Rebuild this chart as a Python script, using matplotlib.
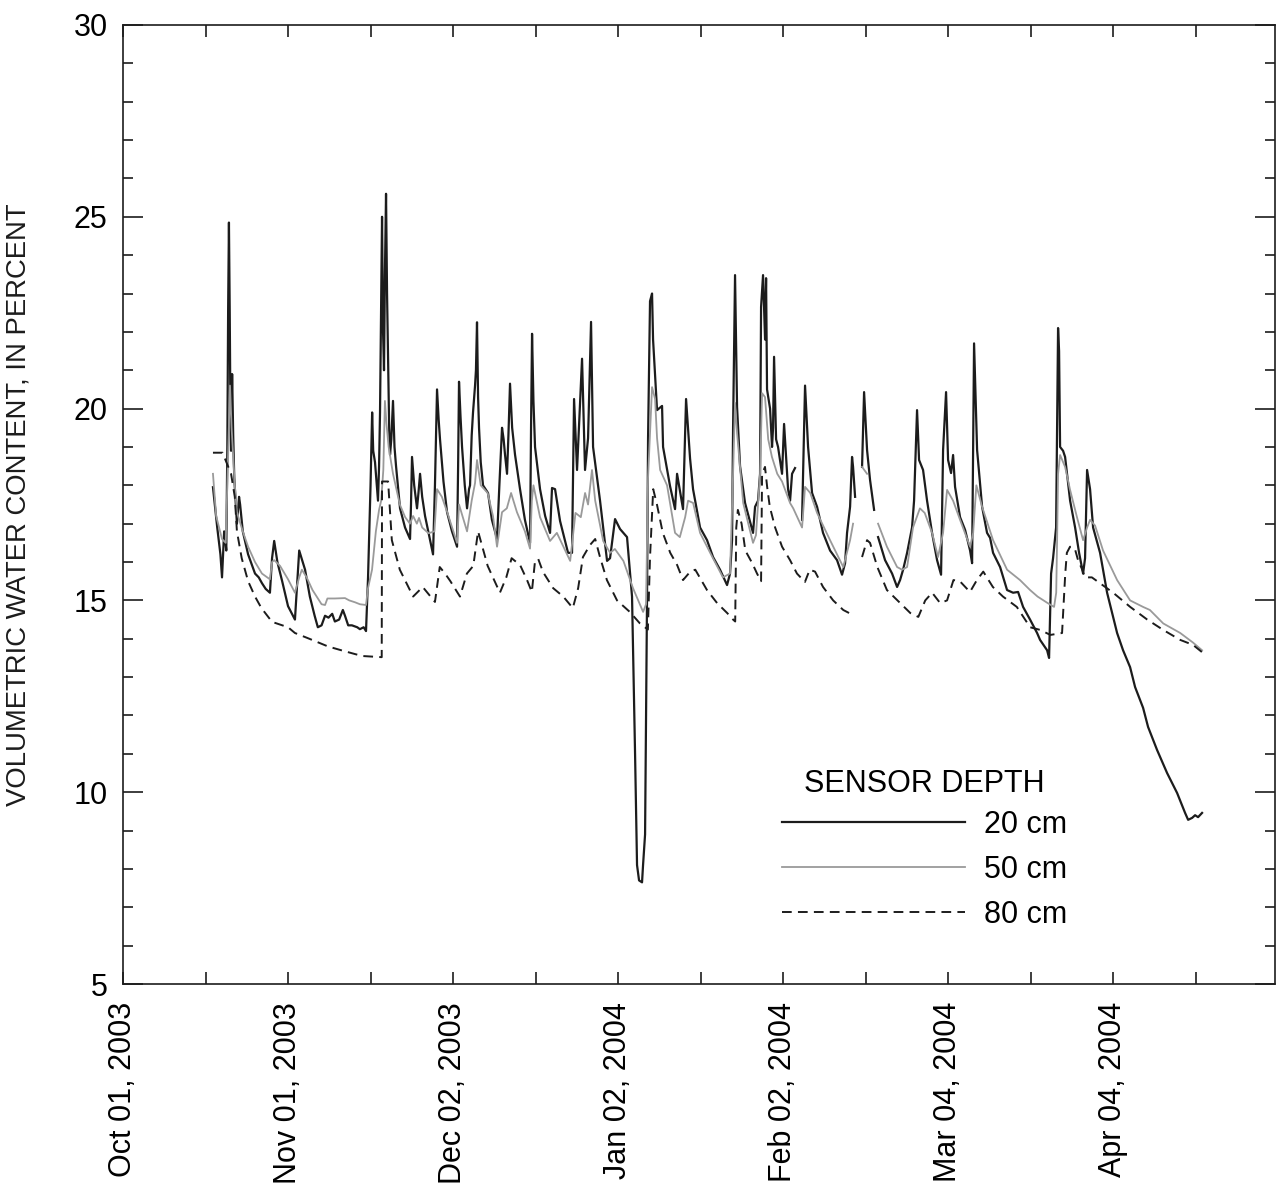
import numpy as np
import matplotlib
matplotlib.use("Agg")
import matplotlib.pyplot as plt
import matplotlib.dates as mdates

plt.rcParams['font.family'] = ['Liberation Sans', 'DejaVu Sans']

# Record start; all series times are days elapsed since this date
start_date = "2003-10-01"

# Axis tick dates and their labels
tick_dates = ["2003-10-01", "2003-11-01", "2003-12-02", "2004-01-02",
              "2004-02-02", "2004-03-04", "2004-04-04"]
tick_labels = ["Oct 01, 2003", "Nov 01, 2003", "Dec 02, 2003", "Jan 02, 2004",
               "Feb 02, 2004", "Mar 04, 2004", "Apr 04, 2004"]

series_labels = ["20 cm", "50 cm", "80 cm"]
legend_title = "SENSOR DEPTH"
y_label = "VOLUMETRIC WATER CONTENT, IN PERCENT"

nan = np.nan

# Sensor at 20 cm depth: (days since start, volumetric water content %)
days_20 = [16.9, 17.7, 18.3, 18.6, 19.0, 19.2, 19.4, 19.6, 19.75, 19.9, 20.05, 20.2, 20.3,
           20.5, 20.7, 20.9, 21.4, 21.8, 22.0, 22.5, 23.5, 24.8, 25.5, 26.1, 26.8, 27.6,
           27.9, 28.0, 28.4, 29.0, 29.9, 31.0, 32.3, 33.1, 34.2, 35.1, 36.0, 36.6, 37.3,
           37.95, 38.6, 39.3, 39.8, 40.6, 41.3, 41.7, 42.3, 43.0, 44.0, 44.5, 45.2, 45.65,
           46.03, 46.5, 46.8, 47.0, 47.34, 47.9, 48.1, 48.28, 48.5, 48.66, 48.85, 49.03,
           49.2, 49.41, 49.6, 49.78, 50.0, 50.16, 50.4, 50.72, 51.0, 51.29, 52.04, 52.98,
           53.92, 54.1, 54.29, 54.7, 55.23, 55.5, 55.8, 56.2, 56.74, 57.5, 58.24, 58.6,
           58.99, 59.3, 59.55, 60.2, 60.87, 61.8, 62.75, 62.95, 63.12, 63.4, 63.69, 64.2,
           64.63, 65.0, 65.19, 65.5, 65.75, 66.13, 66.3, 66.5, 66.7, 66.88, 67.2, 67.63,
           68.57, 69.3, 70.26, 70.7, 71.2, 71.5, 71.76, 72.14, 72.4, 72.7, 73.1, 73.64,
           74.58, 75.5, 76.46, 76.65, 76.84, 77.1, 77.4, 78.34, 79.3, 80.22, 80.59, 81.16,
           82.1, 83.6, 84.35, 84.73, 85.29, 86.23, 86.79, 87.36, 87.92, 88.3, 89.61, 90.93,
           91.49, 92.43, 93.37, 94.68, 95.62, 96.19, 96.56, 96.94, 97.5, 97.69, 98.07,
           98.44, 98.63, 99.0, 99.38, 99.57, 100.32, 101.26, 101.45, 102.76, 103.7, 104.08,
           105.2, 105.77, 106.52, 107.08, 108.4, 109.71, 110.84, 112.15, 113.47, 114.03,
           114.41, 114.6, 114.97, 115.35, 115.91, 116.85, 118.35, 118.73, 119.29, 119.67,
           119.86, 120.23, 120.61, 120.8, 120.98, 121.55, 121.92, 122.11, 122.3, 122.68,
           123.05, 123.8, 124.18, 124.55, 124.93, 125.31, 125.68, 126.24, 126.9, 127.56,
           128.12, 128.69, 129.44, 130.38, 131.5, 132.82, 134.13, 135.07, 135.64, 136.01,
           136.58, 136.95, 137.14, 137.52, 138.2, 138.83, 139.21, 139.77, 140.33, 141.09,
           141.4, 141.84, 143.15, 144.47, 145.41, 145.97, 146.54, 147.29, 148.22, 148.6,
           149.16, 149.54, 150.29, 151.04, 151.98, 152.92, 153.67, 154.05, 154.61, 154.99,
           155.55, 155.93, 156.3, 157.24, 158.18, 159.12, 159.5, 159.87, 160.44, 161.38,
           162.31, 162.88, 163.44, 164.76, 166.07, 167.2, 168.14, 169.08, 170.39, 171.71,
           172.27, 173.59, 173.96, 174.34, 174.71, 175.28, 175.47, 175.65, 175.84, 176.03,
           176.59, 176.97, 177.91, 178.85, 179.6, 180.35, 180.72, 181.1, 181.66, 182.23,
           183.54, 184.86, 186.74, 187.86, 189.18, 190.12, 191.62, 192.56, 194.25, 196.13,
           198.01, 199.51, 200.08, 200.83, 201.39, 201.95, 202.7]
vwc_20 = [17.95, 16.9, 16.2, 15.6, 16.8, 16.6, 16.3, 19.0, 22.6, 24.85, 22.5, 19.5, 18.9,
          20.9, 19.3, 18.2, 17.0, 17.7, 17.5, 16.8, 16.2, 15.7, 15.6, 15.45, 15.3, 15.2,
          15.9, 16.1, 16.55, 16.0, 15.5, 14.85, 14.5, 16.3, 15.8, 15.1, 14.6, 14.3, 14.35,
          14.6, 14.55, 14.65, 14.45, 14.5, 14.75, 14.6, 14.35, 14.35, 14.3, 14.25, 14.3, 14.2,
          15.6, 18.0, 19.9, 18.9, 18.6, 17.6, 18.5, 19.9, 23.0, 25.0, 22.0, 21.0,
          23.5, 25.6, 23.0, 21.5, 19.5, 18.8, 19.2, 20.2, 19.0, 18.5, 17.4, 16.9,
          16.6, 17.5, 18.74, 18.0, 17.4, 17.8, 18.3, 17.7, 17.2, 16.7, 16.2, 18.0,
          20.5, 19.7, 19.2, 18.1, 17.3, 16.8, 16.4, 18.5, 20.7, 19.8, 19.0, 18.0,
          17.4, 17.9, 18.0, 19.3, 19.9, 20.6, 21.0, 22.25, 20.3, 19.5, 18.6, 18.0,
          17.8, 17.1, 16.6, 18.0, 19.5, 19.2, 18.8, 18.3, 19.3, 20.65, 19.5, 18.8,
          17.9, 17.1, 16.5, 19.5, 21.95, 20.2, 19.0, 17.9, 17.2, 16.76, 17.93, 17.9,
          17.07, 16.24, 16.24, 20.25, 18.4, 21.3, 18.4, 19.23, 22.26, 19.0, 17.6, 16.03,
          16.1, 17.12, 16.86, 16.65, 15.1, 11.0, 8.1, 7.7, 7.65, 8.1, 8.9,
          15.1, 19.23, 22.8, 23.0, 21.8, 19.96, 20.07, 19.0, 17.98, 17.38, 18.3,
          17.38, 20.25, 18.7, 17.9, 16.9, 16.57, 16.13, 15.8, 15.4, 15.7,
          16.57, 19.5, 23.48, 20.04, 18.5, 17.54, 16.76, 17.44, 17.6, 18.3,
          22.65, 23.48, 21.8, 23.4, 20.5, 20.0, 19.0, 19.5, 21.35, 19.2,
          19.0, 18.3, 19.6, 18.74, 17.9, 17.6, 18.3, 18.45, nan, 17.1,
          20.6, 19.0, 17.8, 17.44, 16.76, 16.3, 16.05, 15.67, 15.97, 16.76,
          17.44, 18.74, 18.48, 17.7, nan, 18.48, 20.43, 18.92, 18.14, 17.36,
          nan, 16.65, 16.05, 15.7, 15.35, 15.53, 15.8, 16.24, 16.9, 17.6,
          19.96, 18.66, 18.4, 17.6, 16.76, 16.05, 15.67, 18.92, 20.43, 18.66,
          18.32, 18.79, 17.96, 17.17, 16.84, 16.3, 15.97, 21.7, 18.92, 17.44,
          16.76, 16.63, 16.24, 15.87, 15.27, 15.2, 15.22, 14.83, 14.5, 14.15,
          13.97, 13.7, 13.5, 15.7, 16.1, 16.9, 19.6, 22.1, 21.5, 19.0,
          18.9, 18.74, 17.6, 16.9, 16.24, 15.7, 16.1, 18.4, 17.9, 16.9,
          16.24, 15.2, 14.15, 13.7, 13.26, 12.74, 12.2, 11.7, 11.1, 10.5,
          9.98, 9.46, 9.28, 9.33, 9.4, 9.35, 9.46]

# Sensor at 50 cm depth
days_50 = [16.9, 17.5, 18.6, 19.3, 19.7, 20.1, 20.4, 21.0, 21.4, 22.5, 23.5, 24.8, 26.1,
           27.6, 28.0, 28.4, 29.5, 31.0, 32.3, 33.1, 33.6, 34.5, 35.6, 37.3, 37.95, 38.4,
           39.8, 41.7, 42.5, 43.6, 44.5, 45.65, 46.0, 46.78, 47.5, 48.1, 48.5, 48.9, 49.2,
           49.5, 49.9, 50.72, 52.0, 53.0, 53.9, 54.5, 55.2, 55.6, 56.2, 57.4, 58.5, 58.99,
           59.9, 60.9, 62.75, 63.12, 64.63, 65.5, 66.13, 66.5, 67.2, 68.5, 69.5, 70.26,
           71.2, 72.1, 72.9, 74.0, 75.5, 76.46, 76.8, 77.1, 78.34, 80.22, 81.5, 84.0, 85.0,
           86.0, 86.8, 87.36, 88.1, 88.7, 90.2, 91.5, 92.4, 94.0, 95.8, 97.7, 98.25, 98.63,
           99.38, 99.95, 100.32, 100.9, 102.2, 103.7, 104.6, 105.6, 106.15, 107.1, 108.4,
           110.3, 112.7, 114.03, 114.6, 114.97, 115.35, 116.5, 118.35, 118.9, 119.67,
           120.05, 120.6, 121.2, 121.9, 122.9, 123.8, 125.3, 125.9, 127.56, 128.12, 129.1,
           130.38, 132.82, 135.3, 136.58, 137.14, 138.2, 138.83, 139.77, 141.4, 141.84,
           143.5, 145.41, 146.35, 147.29, 148.4, 149.7, 150.6, 151.98, 153.1, 154.05,
           154.8, 155.93, 157.24, 159.12, 159.7, 160.3, 161.38, 163.44, 166.07, 168.5,
           170.39, 171.8, 173.7, 174.9, 175.3, 175.47, 175.65, 176.03, 176.97, 177.91,
           179.2, 180.35, 181.1, 181.66, 182.6, 184.1, 186.74, 189.18, 191.62, 192.9,
           195.4, 198.6, 201.0, 202.7]
vwc_50 = [18.3, 17.2, 16.6, 16.5, 18.5, 20.6, 19.5, 18.0, 17.3, 16.8, 16.4, 16.0, 15.7,
          15.55, 16.0, 16.05, 15.9, 15.55, 15.2, 15.6, 15.8, 15.6, 15.27, 14.9, 14.88, 15.05,
          15.05, 15.06, 15.0, 14.95, 14.9, 14.88, 15.3, 15.8, 16.8, 17.36, 17.6, 18.4, 20.2,
          19.6, 19.0, 18.3, 17.5, 17.17, 17.0, 17.2, 17.0, 17.15, 16.9, 16.75, 16.8, 17.9,
          17.7, 17.3, 16.5, 17.5, 16.8, 17.6, 18.06, 18.66, 18.0, 17.8, 17.2, 16.4,
          17.3, 17.4, 17.8, 17.3, 16.8, 16.35, 17.6, 18.0, 17.17, 16.55, 16.76, 16.03, 17.28,
          17.17, 17.8, 17.5, 18.4, 17.6, 16.55, 16.24, 16.34, 16.03, 15.32, 14.7, 14.9, 18.2,
          20.56, 20.25, 19.23, 18.4, 18.0, 16.76, 16.65, 17.17, 17.6, 17.54, 16.76,
          16.24, 15.6, 15.7, 18.3, 20.15, 19.36, 17.54, 16.5, 16.7, 18.3,
          20.4, 20.3, 19.2, 18.74, 18.3, 18.1, 17.54, 17.4, 16.9, 17.96, 17.8,
          17.28, 16.57, 15.87, 16.57, 17.0, nan, 18.48, 18.3, nan, 17.0,
          16.4, 15.87, 15.8, 15.87, 16.9, 17.4, 17.28, 16.76, 16.13, 16.76,
          17.88, 17.6, 17.1, 16.4, 16.76, 18.0, 17.44, 16.57, 15.8, 15.53,
          15.27, 15.1, 14.93, 14.83, 15.2, 16.57, 18.3, 18.79, 18.48, 17.88,
          17.17, 16.57, 16.9, 17.1, 16.95, 16.3, 15.53, 15.0, 14.83, 14.75,
          14.4, 14.15, 13.9, 13.7]

# Sensor at 80 cm depth
days_80 = [16.9, 18.7, 20.3, 21.0, 21.4, 22.3, 23.5, 24.8, 26.0, 28.0, 31.0, 32.3, 35.0,
           38.5, 41.0, 43.6, 45.0, 48.6, 48.66, 49.8, 50.5, 52.0, 54.5, 56.3, 58.6, 59.5,
           60.5, 61.5, 63.3, 64.6, 65.8, 66.7, 68.5, 70.8, 72.0, 73.0, 74.6, 75.9, 76.8,
           77.4, 78.0, 78.9, 80.8, 82.7, 84.5, 85.5, 86.4, 87.7, 88.7, 89.6, 90.9, 92.8,
           95.2, 97.1, 98.6, 99.0, 99.6, 100.3, 101.4, 102.8, 104.1, 105.2, 106.5, 107.5,
           109.7, 111.6, 113.5, 114.6, 115.0, 115.2, 115.5, 116.2, 116.9, 118.2, 119.1,
           119.86, 120.05, 120.6, 121.0, 121.5, 122.5, 123.8, 125.3, 126.6, 128.1, 129.0,
           130.0, 131.5, 133.4, 135.3, 137.1, 138.2, 138.83, 139.77, 140.33, 141.7, 143.5,
           146.0, 147.9, 149.4, 150.7, 152.0, 153.5, 154.8, 156.0, 157.2, 159.1, 160.4,
           161.6, 163.4, 165.3, 167.9, 170.4, 172.3, 174.2, 176.4, 176.6, 177.0, 177.3,
           177.9, 178.8, 179.4, 180.2, 180.7, 182.0, 183.5, 186.0, 189.2, 192.4, 195.4,
           198.6, 201.0, 202.7]
vwc_80 = [18.85, 18.85, 18.3, 17.7, 16.8, 16.1, 15.5, 15.1, 14.8, 14.44, 14.3, 14.15, 14.0,
          13.8, 13.7, 13.6, 13.55, 13.52, 18.1, 18.1, 16.57, 15.8, 15.1, 15.35, 14.96, 15.87,
          15.7, 15.5, 15.1, 15.7, 15.9, 16.8, 15.9, 15.2, 15.6, 16.1, 15.92, 15.53, 15.22,
          16.03, 16.08, 15.74, 15.32, 15.1, 14.8, 15.32, 16.13, 16.44, 16.6, 16.13, 15.53, 15.0,
          14.7, 14.4, 14.24, 16.13, 17.9, 17.5, 16.76, 16.24, 15.92, 15.53, 15.74, 15.8,
          15.27, 14.93, 14.67, 14.5, 14.45, 16.9, 17.36, 17.0, 16.3, 15.97, 15.7,
          15.5, 18.3, 18.48, 17.96, 17.44, 16.9, 16.4, 16.05, 15.7, 15.48, 15.8,
          15.75, 15.35, 15.0, 14.75, 14.62, nan, 16.13, 16.57, 16.5, 15.87, 15.27,
          14.93, 14.67, 14.57, 15.0, 15.2, 14.93, 15.0, 15.53, 15.5, 15.22, 15.53,
          15.75, 15.35, 15.1, 14.83, 14.3, 14.23, 14.1, 14.15, 14.67, 15.7, 16.24,
          16.4, 16.35, 16.05, 15.8, 15.6, 15.6, 15.45, 15.2, 14.83, 14.5, 14.23,
          13.97, 13.84, 13.65]

t0 = mdates.date2num(np.datetime64(start_date))


def to_time(days):
    return t0 + np.asarray(days, dtype=float)


fig = plt.figure(figsize=(12.77, 11.96), dpi=100)
ax = fig.add_axes([123 / 1277, 1 - 984 / 1196, 1152 / 1277, 959 / 1196])

ink = "#1c1c1c"
ax.plot(to_time(days_20), vwc_20, color=ink, lw=1.6, label=series_labels[0])
ax.plot(to_time(days_50), vwc_50, color="#9a9a9a", lw=1.3, label=series_labels[1])
ax.plot(to_time(days_80), vwc_80, color=ink, lw=1.4, dashes=(5.0, 3.2),
        label=series_labels[2])

# Axes limits and ticks
ax.set_ylim(5, 30)
ax.set_xlim(t0, t0 + 216.4)

major_t = mdates.date2num(np.array(tick_dates, dtype="datetime64[D]"))
minor_t = major_t + 15.5
ax.set_xticks(major_t)
ax.set_xticklabels(tick_labels, rotation=90, fontsize=22)
ax.set_xticks(minor_t, minor=True)
ax.set_yticks(np.arange(5, 31, 5))
ax.set_yticks(np.arange(5, 31, 1), minor=True)
ax.tick_params(axis="y", labelsize=22)

ax.tick_params(which="both", direction="in", top=True, right=True,
               width=1.2, color=ink)
ax.tick_params(axis="y", which="major", length=14.4, pad=11)
ax.tick_params(axis="y", which="minor", length=7.2)
ax.tick_params(axis="x", which="both", length=8.5, pad=13)

for s in ax.spines.values():
    s.set_linewidth(1.2)
    s.set_color(ink)

ax.set_ylabel(y_label, fontsize=19.8, color=ink)
ax.yaxis.set_label_coords(-0.079, 0.5)

leg = ax.legend(title=legend_title, loc="upper left", bbox_to_anchor=(0.572, 0.224),
                frameon=False, fontsize=22, title_fontsize=22, handlelength=6.0,
                handletextpad=0.6, labelspacing=0.5, borderpad=0, borderaxespad=0)
leg._legend_box.align = "center"
leg._legend_box.sep = 7.5

fig.savefig("out.png", dpi=100)
